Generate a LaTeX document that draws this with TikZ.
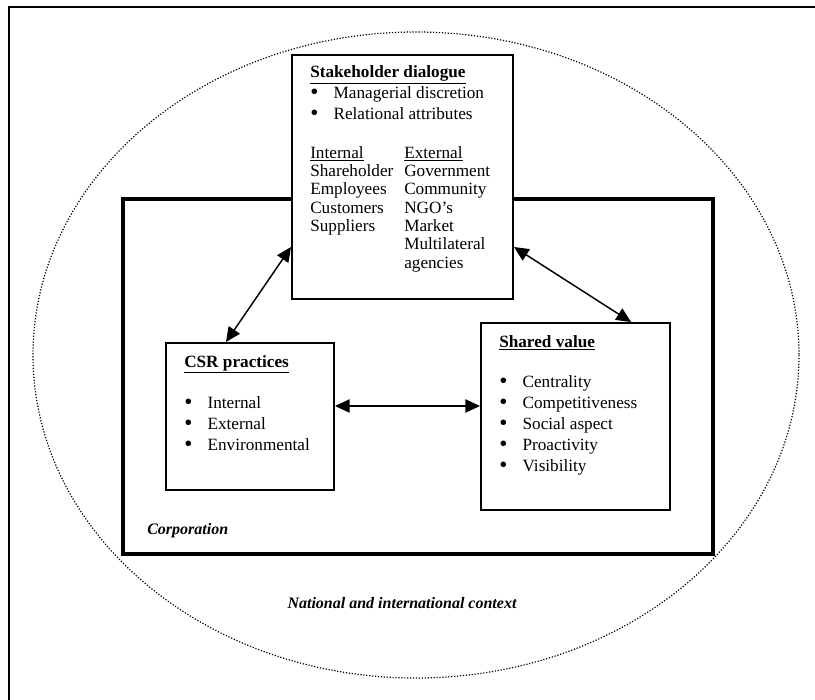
\documentclass[tikz,border=0pt]{standalone}
\usepackage{fontspec}
\setmainfont{Liberation Serif}
\usetikzlibrary{arrows.meta,calc,fit}
\newcommand{\hd}[1]{\underline{\textbf{#1}}}
\newcommand{\itm}{\makebox[17.5pt][l]{\smash{\raisebox{-0.7pt}{\scalebox{1.35}{\textbullet}}}}}

\begin{document}
\begin{tikzpicture}[
    x=0.75pt, y=-0.75pt,
    box/.style={draw, line width=1.5pt, inner sep=0pt},
    corp/.style={draw, line width=2.4pt, inner sep=0pt},
    txt/.style={anchor=north west, inner sep=0pt, align=left, font=\fontsize{12.9}{15.75}\selectfont},
    lbl/.style={inner sep=0pt, font=\fontsize{12}{14}\selectfont\bfseries\itshape},
    arr/.style={{Triangle[length=11pt,width=10pt]}-{Triangle[length=11pt,width=10pt]}, line width=1.1pt}
]
\useasboundingbox (0,0) rectangle (815,700);
\draw[line width=1.2pt] (815,7) -- (9,7) -- (9,700);
\draw[line width=0.9pt, dash pattern=on 0.9pt off 1.3pt] (416,355) ellipse [x radius=383, y radius=323];

\node[corp, fit={(123,199) (713,554)}] (corp) {};
\node[box, fill=white, fit={(292,55) (513,299)}] (stake) {};
\node[box, fit={(166,343) (334,490)}] (csr) {};
\node[box, fit={(481,323) (670,510)}] (shared) {};

\node[txt] (stakehead) at (310,65.5) {\hd{Stakeholder dialogue}\\ \itm Managerial discretion\\ \itm Relational attributes};
\node[txt, font=\fontsize{12.9}{13.75}\selectfont] (intl) at (310,146) {\underline{Internal}\\Shareholder\\Employees\\Customers\\Suppliers};
\node[txt, font=\fontsize{12.9}{13.75}\selectfont] (extl) at (404,146) {\underline{External}\\Government\\Community\\NGO’s\\Market\\Multilateral\\agencies};

\node[txt] (csrtxt) at (184,355) {\hd{CSR practices}\\[15pt] \itm Internal\\ \itm External\\ \itm Environmental};
\node[txt] (sharedtxt) at (499,335) {\hd{Shared value}\\[14.25pt] \itm Centrality\\ \itm Competitiveness\\ \itm Social aspect\\ \itm Proactivity\\ \itm Visibility};

\node[lbl, anchor=west] (corplbl) at (147,531) {Corporation};
\node[lbl] (ctxlbl) at (402,603) {National and international context};

\draw[arr] ($(csr.north west)+(61,0)$) -- ($(stake.north west)+(0,193)$);
\draw[arr] ($(stake.north east)+(0,193)$) -- ($(shared.north west)+(151,0)$);
\draw[arr] ($(csr.north east)+(0,64)$) -- ($(shared.north west)+(0,84)$);
\end{tikzpicture}
\end{document}
